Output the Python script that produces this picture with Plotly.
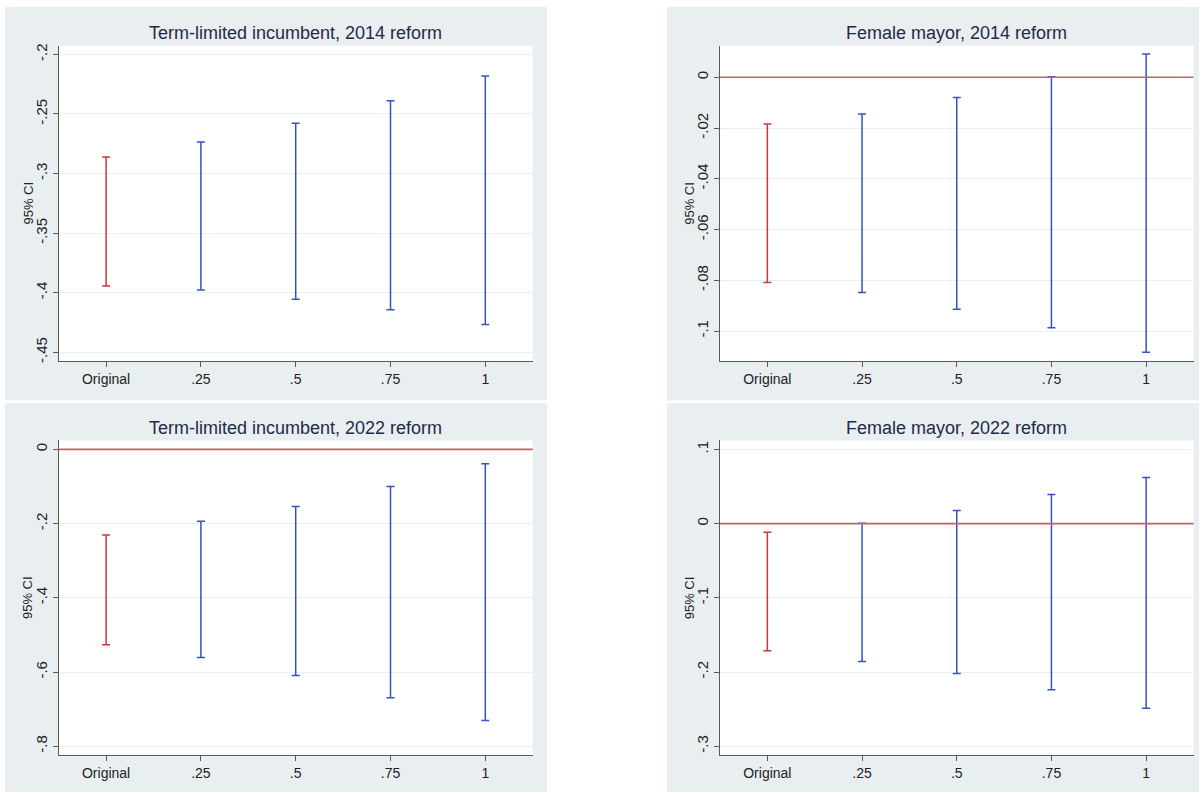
import plotly.graph_objects as go

# Specification labels on the x axis
specs = ["Original", ".25", ".5", ".75", "1"]

# 95% confidence interval bounds per panel
tl_lo = [-0.3944, -0.3978, -0.4055, -0.4144, -0.4267]
tl_hi = [-0.2861, -0.2736, -0.2578, -0.2389, -0.2181]

tr_lo = [-0.0809, -0.0848, -0.0914, -0.0987, -0.1084]
tr_hi = [-0.0184, -0.0145, -0.0080, 0.0002, 0.0092]

bl_lo = [-0.5263, -0.5611, -0.6094, -0.6692, -0.7308]
bl_hi = [-0.2306, -0.1938, -0.1536, -0.1000, -0.0386]

br_lo = [-0.1712, -0.1859, -0.2020, -0.2239, -0.2489]
br_hi = [-0.0117, 0.0004, 0.0178, 0.0393, 0.0621]

titles = [
    "Term-limited incumbent, 2014 reform",
    "Female mayor, 2014 reform",
    "Term-limited incumbent, 2022 reform",
    "Female mayor, 2022 reform",
]

# y-axis ticks per panel
tl_ticks = [-0.2, -0.25, -0.3, -0.35, -0.4, -0.45]
tl_text = ["-.2", "-.25", "-.3", "-.35", "-.4", "-.45"]
tr_ticks = [0, -0.02, -0.04, -0.06, -0.08, -0.1]
tr_text = ["0", "-.02", "-.04", "-.06", "-.08", "-.1"]
bl_ticks = [0, -0.2, -0.4, -0.6, -0.8]
bl_text = ["0", "-.2", "-.4", "-.6", "-.8"]
br_ticks = [0.1, 0, -0.1, -0.2, -0.3]
br_text = [".1", "0", "-.1", "-.2", "-.3"]

W, H = 1203, 794
RED = "#C83A3A"
BLUE = "#3552C0"
REFLINE = "#C8606A"
PANEL_BG = "#E9EEF1"
GRID = "#E8EFF2"
AXIS = "#5A5A5A"
TITLE_C = "#1F2A48"
FONT = "Liberation Sans, Arial, sans-serif"


def px_x(p):
    return p / W


def px_y(p):
    return 1 - p / H


panels = [
    # lo, hi, ticks, ticktext, y-range, x-domain px, y-domain px, zero line
    (tl_lo, tl_hi, tl_ticks, tl_text, [-0.45725, -0.19275], (58.7, 532.7), (44, 360.7), False),
    (tr_lo, tr_hi, tr_ticks, tr_text, [-0.11176, 0.01243], (720.0, 1193.5), (44, 360.7), True),
    (bl_lo, bl_hi, bl_ticks, bl_text, [-0.8241, 0.0241], (58.7, 532.7), (440.7, 757.0), True),
    (br_lo, br_hi, br_ticks, br_text, [-0.3121, 0.1121], (720.0, 1193.5), (440.7, 757.0), True),
]

# grey graph regions behind each panel
regions = [
    (5, 5, 547, 400.5),
    (667, 5, 1199, 400.5),
    (5, 403, 547, 794),
    (667, 403, 1199, 794),
]

fig = go.Figure()
layout = dict(
    width=W, height=H,
    margin=dict(l=0, r=0, t=0, b=0),
    paper_bgcolor="white",
    plot_bgcolor="white",
    showlegend=False,
    font=dict(family=FONT, color="#222222", size=14),
    shapes=[], annotations=[],
)

for (x0, y0, x1, y1) in regions:
    layout["shapes"].append(dict(
        type="rect", xref="paper", yref="paper",
        x0=px_x(x0), x1=px_x(x1), y0=px_y(y1), y1=px_y(y0),
        fillcolor=PANEL_BG, line=dict(width=0), layer="below",
    ))

# white plot regions on top of the grey graph regions
for (lo, hi, ticks, ttext, yr, xd, yd, zero) in panels:
    layout["shapes"].append(dict(
        type="rect", xref="paper", yref="paper",
        x0=px_x(xd[0]), x1=px_x(xd[1]), y0=px_y(yd[1]), y1=px_y(yd[0]),
        fillcolor="white", line=dict(width=0), layer="below",
    ))

for i, (lo, hi, ticks, ttext, yr, xd, yd, zero) in enumerate(panels):
    n = "" if i == 0 else str(i + 1)
    xa, ya = "x" + n, "y" + n
    mid = [(a + b) / 2 for a, b in zip(lo, hi)]
    colors = [RED] + [BLUE] * (len(specs) - 1)
    for j in range(len(specs)):
        fig.add_trace(go.Scatter(
            x=[specs[j]], y=[mid[j]], mode="markers",
            marker=dict(size=1, color="rgba(0,0,0,0)"),
            error_y=dict(type="data", symmetric=False,
                         array=[hi[j] - mid[j]], arrayminus=[mid[j] - lo[j]],
                         color=colors[j], thickness=1.5, width=4),
            xaxis=xa, yaxis=ya, hoverinfo="skip",
        ))
    if zero:
        layout["shapes"].append(dict(
            type="line", xref=xa + " domain", yref=ya,
            x0=0, x1=1, y0=0, y1=0,
            line=dict(color=REFLINE, width=1.6), layer="above",
        ))
    layout["xaxis" + n] = dict(
        domain=[px_x(xd[0]), px_x(xd[1])], anchor=ya,
        type="category", categoryorder="array", categoryarray=specs,
        range=[-0.5, 4.5], showgrid=False, zeroline=False,
        showline=True, linecolor=AXIS, linewidth=1.2,
        ticks="outside", ticklen=5, tickcolor=AXIS, tickwidth=1.2,
        tickfont=dict(size=14, color="#222222"), fixedrange=True,
    )
    layout["yaxis" + n] = dict(
        domain=[px_y(yd[1]), px_y(yd[0])], anchor=xa,
        range=yr, tickvals=ticks, ticktext=ttext, tickangle=-90,
        showgrid=True, gridcolor=GRID, gridwidth=1, zeroline=False,
        showline=True, linecolor=AXIS, linewidth=1.2,
        ticks="outside", ticklen=5, tickcolor=AXIS, tickwidth=1.2,
        tickfont=dict(size=15, color="#222222"), fixedrange=True,
    )
    cx = (xd[0] + xd[1]) / 2
    ty = 31 if yd[0] < 400 else 428
    layout["annotations"].append(dict(
        text=titles[i], xref="paper", yref="paper",
        x=px_x(cx), y=px_y(ty), xanchor="center", yanchor="middle",
        showarrow=False, font=dict(size=18, color=TITLE_C, family=FONT),
    ))
    layout["annotations"].append(dict(
        text="95% CI", xref="paper", yref="paper",
        x=px_x(xd[0] - 30.5), y=px_y((yd[0] + yd[1]) / 2),
        xanchor="center", yanchor="middle", textangle=-90,
        showarrow=False, font=dict(size=13, color="#222222", family=FONT),
    ))

fig.update_layout(**layout)
fig.write_html("out.html")
